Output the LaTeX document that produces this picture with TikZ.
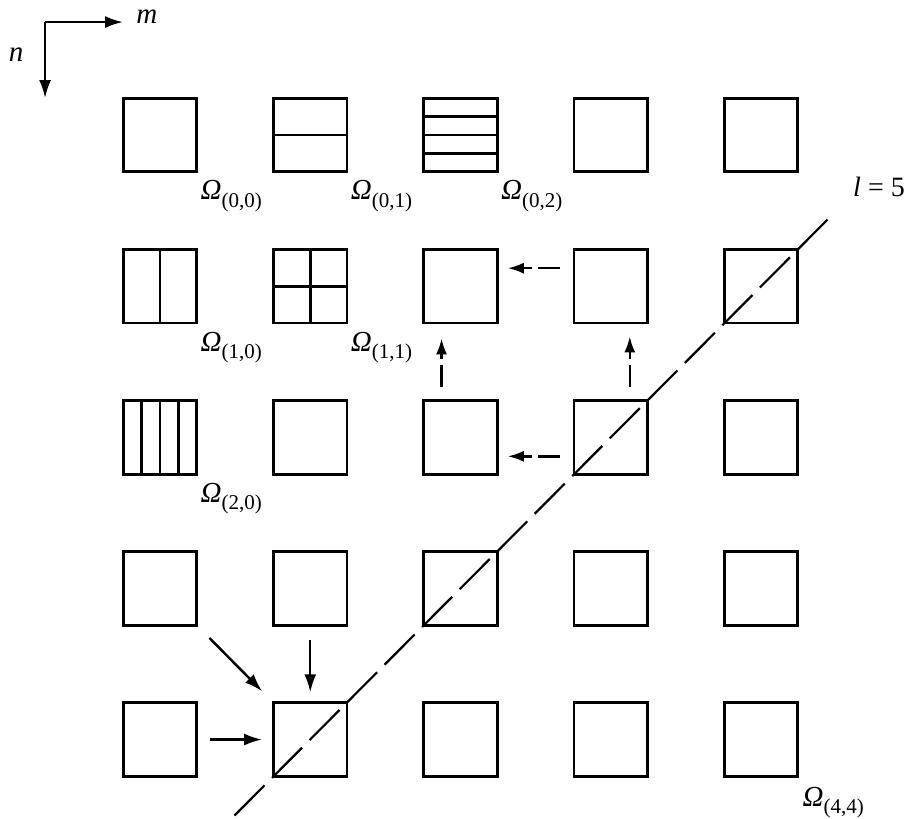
\documentclass[tikz,border=0pt]{standalone}
\usepackage{fontspec}
\setmainfont{Liberation Serif}
\usetikzlibrary{arrows.meta,calc}
\newcommand{\omlab}[1]{\textit{Ω}\raisebox{-3.8pt}{\fontsize{10.5}{11}\selectfont(#1)}}

\begin{document}
\begin{tikzpicture}[x=2.64cm,y=2.655cm,>={Latex[length=9pt,width=6pt]},
  cell/.style={draw,line width=1.4pt,minimum size=36.8pt,inner sep=0pt},
  div/.style={line width=1.4pt},
  lab/.style={anchor=north west,inner sep=0pt,font=\fontsize{14.5}{16}\selectfont},
  sarr/.style={->,line width=1.2pt},
  darr/.style={-{Latex[length=8pt,width=5.5pt]},line width=1.2pt,dash pattern=on 11pt off 3pt},
  diag/.style={line width=1.1pt,dash pattern=on 21.3pt off 5.3pt}]
\useasboundingbox (-1.065,0.894) rectangle (4.998,-4.523);
% axes
\coordinate (o)at(-0.765,0.748);
\coordinate (mx)at(-0.246,0.748);
\coordinate (ny)at(-0.765,0.245);
\draw[sarr] (o) -- (mx);
\draw[sarr] (o) -- (ny);
\node[font=\fontsize{14.5}{16}\selectfont\itshape] (m)at(-0.087,0.781){m};
\node[font=\fontsize{14.5}{16}\selectfont\itshape] (n)at(-0.958,0.53){n};
% grid
\node[cell] (00)at(0,0){};
\node[cell] (01)at(1,0){};
\node[cell] (02)at(2,0){};
\node[cell] (03)at(3,0){};
\node[cell] (04)at(4,0){};
\node[cell] (10)at(0,-1){};
\node[cell] (11)at(1,-1){};
\node[cell] (12)at(2,-1){};
\node[cell] (13)at(3,-1){};
\node[cell] (14)at(4,-1){};
\node[cell] (20)at(0,-2){};
\node[cell] (21)at(1,-2){};
\node[cell] (22)at(2,-2){};
\node[cell] (23)at(3,-2){};
\node[cell] (24)at(4,-2){};
\node[cell] (30)at(0,-3){};
\node[cell] (31)at(1,-3){};
\node[cell] (32)at(2,-3){};
\node[cell] (33)at(3,-3){};
\node[cell] (34)at(4,-3){};
\node[cell] (40)at(0,-4){};
\node[cell] (41)at(1,-4){};
\node[cell] (42)at(2,-4){};
\node[cell] (43)at(3,-4){};
\node[cell] (44)at(4,-4){};
% subdivisions
\draw[div] (01.west) -- (01.east);
\draw[div] (02.west) -- (02.east);
\draw[div] ([yshift=9.2pt]02.west) -- ([yshift=9.2pt]02.east);
\draw[div] ([yshift=-9.2pt]02.west) -- ([yshift=-9.2pt]02.east);
\draw[div] (10.north) -- (10.south);
\draw[div] (11.north) -- (11.south);
\draw[div] (11.west) -- (11.east);
\draw[div] (20.north) -- (20.south);
\draw[div] ([xshift=9.2pt]20.north) -- ([xshift=9.2pt]20.south);
\draw[div] ([xshift=-9.2pt]20.north) -- ([xshift=-9.2pt]20.south);
% labels
\node[lab] (w00)at([shift={(1pt,-3.5pt)}]00.south east){\omlab{0,0}};
\node[lab] (w01)at([shift={(1pt,-3.5pt)}]01.south east){\omlab{0,1}};
\node[lab] (w02)at([shift={(1pt,-3.5pt)}]02.south east){\omlab{0,2}};
\node[lab] (w10)at([shift={(1pt,-3.5pt)}]10.south east){\omlab{1,0}};
\node[lab] (w11)at([shift={(1pt,-3.5pt)}]11.south east){\omlab{1,1}};
\node[lab] (w20)at([shift={(1pt,-3.5pt)}]20.south east){\omlab{2,0}};
\node[lab] (w44)at([shift={(1.5pt,-4.5pt)}]44.south east){\omlab{4,4}};
% diagonal l=5
\coordinate (lo)at($(41.south west)+(-0.25,-0.25)$);
\coordinate (hi)at($(14.north east)+(0.205,0.205)$);
\draw[diag] (lo) -- (hi);
\node[font=\fontsize{14}{16}\selectfont] (l5)at(4.785,-0.344){\textit{l} = 5};
% solid arrows
\draw[sarr,shorten <=8pt,shorten >=7pt] (30.south east) -- (41.north west);
\draw[sarr,shorten <=6.5pt,shorten >=4.5pt] (31.south) -- (41.north);
\draw[sarr,shorten <=6pt,shorten >=5pt] (40.east) -- (41.west);
% dashed arrows
\draw[darr,shorten <=6.5pt,shorten >=4.5pt] ([yshift=9pt]13.west) -- ([yshift=9pt]12.east);
\draw[darr,shorten <=6.5pt,shorten >=4.5pt] ([yshift=-9.5pt]23.west) -- ([yshift=-9.5pt]22.east);
\draw[darr,shorten <=6pt,shorten >=6pt] ([xshift=9.5pt]23.north) -- ([xshift=9.5pt]13.south);
\draw[darr,shorten <=6pt,shorten >=7pt] ([xshift=-9.5pt]22.north) -- ([xshift=-9.5pt]12.south);
\end{tikzpicture}
\end{document}
